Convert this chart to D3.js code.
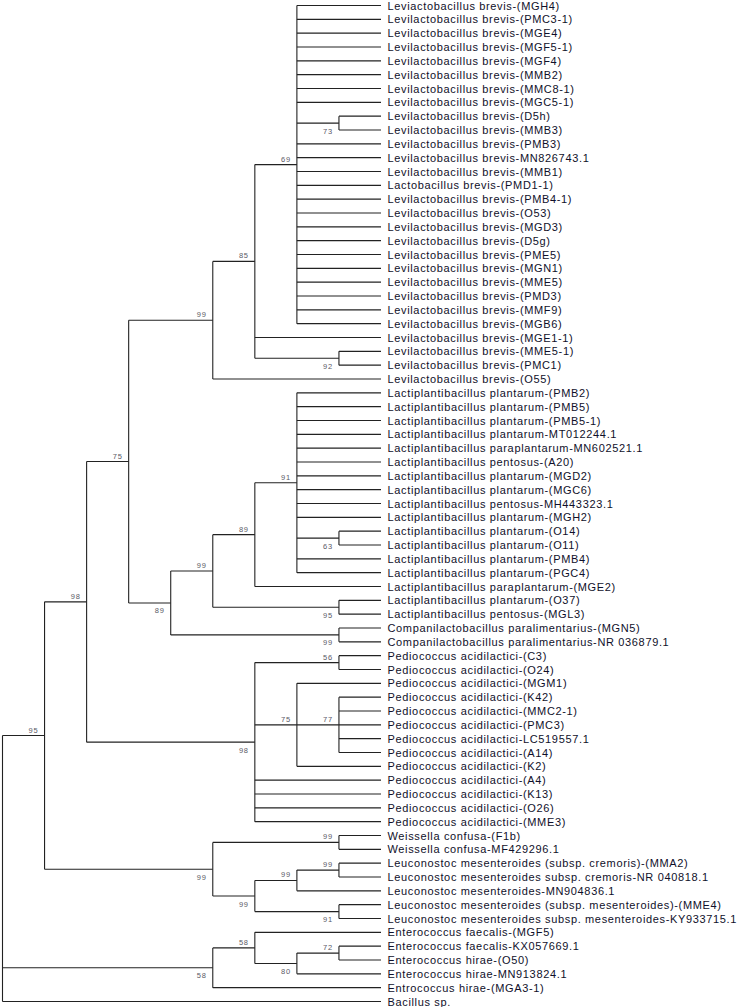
<!DOCTYPE html>
<html>
<head>
<meta charset="utf-8">
<script src="https://cdn.jsdelivr.net/npm/d3@7"></script>
<style>
  html, body { margin: 0; padding: 0; background: #fff; }
  svg { display: block; }
</style>
</head>
<body>
<svg id="chart" width="741" height="1007"></svg>
<script>
// ---------------- DATA ----------------
// Leaf names, grouped by clade (top to bottom order)
const levBrevisA = [
  "Leviactobacillus brevis-(MGH4)", "Levilactobacillus brevis-(PMC3-1)",
  "Levilactobacillus brevis-(MGE4)", "Levilactobacillus brevis-(MGF5-1)",
  "Levilactobacillus brevis-(MGF4)", "Levilactobacillus brevis-(MMB2)",
  "Levilactobacillus brevis-(MMC8-1)", "Levilactobacillus brevis-(MGC5-1)"
];
const levBrevisPair73 = ["Levilactobacillus brevis-(D5h)", "Levilactobacillus brevis-(MMB3)"];
const levBrevisB = [
  "Levilactobacillus brevis-(PMB3)", "Levilactobacillus brevis-MN826743.1",
  "Levilactobacillus brevis-(MMB1)", "Lactobacillus brevis-(PMD1-1)",
  "Levilactobacillus brevis-(PMB4-1)", "Levilactobacillus brevis-(O53)",
  "Levilactobacillus brevis-(MGD3)", "Levilactobacillus brevis-(D5g)",
  "Levilactobacillus brevis-(PME5)", "Levilactobacillus brevis-(MGN1)",
  "Levilactobacillus brevis-(MME5)", "Levilactobacillus brevis-(PMD3)",
  "Levilactobacillus brevis-(MMF9)", "Levilactobacillus brevis-(MGB6)"
];
const levSingle = "Levilactobacillus brevis-(MGE1-1)";
const levPair92 = ["Levilactobacillus brevis-(MME5-1)", "Levilactobacillus brevis-(PMC1)"];
const levOut = "Levilactobacillus brevis-(O55)";

const lpA = [
  "Lactiplantibacillus plantarum-(PMB2)", "Lactiplantibacillus plantarum-(PMB5)",
  "Lactiplantibacillus plantarum-(PMB5-1)", "Lactiplantibacillus plantarum-MT012244.1",
  "Lactiplantibacillus paraplantarum-MN602521.1", "Lactiplantibacillus pentosus-(A20)",
  "Lactiplantibacillus plantarum-(MGD2)", "Lactiplantibacillus plantarum-(MGC6)",
  "Lactiplantibacillus pentosus-MH443323.1", "Lactiplantibacillus plantarum-(MGH2)"
];
const lpPair63 = ["Lactiplantibacillus plantarum-(O14)", "Lactiplantibacillus plantarum-(O11)"];
const lpB = ["Lactiplantibacillus plantarum-(PMB4)", "Lactiplantibacillus plantarum-(PGC4)"];
const lpSingle = "Lactiplantibacillus paraplantarum-(MGE2)";
const lpPair95 = ["Lactiplantibacillus plantarum-(O37)", "Lactiplantibacillus pentosus-(MGL3)"];
const compPair = ["Companilactobacillus paralimentarius-(MGN5)", "Companilactobacillus paralimentarius-NR 036879.1"];

const pedPair56 = ["Pediococcus acidilactici-(C3)", "Pediococcus acidilactici-(O24)"];
const pedSingle = "Pediococcus acidilactici-(MGM1)";
const pedGroup77 = [
  "Pediococcus acidilactici-(K42)", "Pediococcus acidilactici-(MMC2-1)",
  "Pediococcus acidilactici-(PMC3)", "Pediococcus acidilactici-LC519557.1",
  "Pediococcus acidilactici-(A14)"
];
const pedK2 = "Pediococcus acidilactici-(K2)";
const pedRest = [
  "Pediococcus acidilactici-(A4)", "Pediococcus acidilactici-(K13)",
  "Pediococcus acidilactici-(O26)", "Pediococcus acidilactici-(MME3)"
];

const weisPair = ["Weissella confusa-(F1b)", "Weissella confusa-MF429296.1"];
const leucPairCrem = ["Leuconostoc mesenteroides (subsp. cremoris)-(MMA2)", "Leuconostoc mesenteroides subsp. cremoris-NR 040818.1"];
const leucSingle = "Leuconostoc mesenteroides-MN904836.1";
const leucPairMes = ["Leuconostoc mesenteroides (subsp. mesenteroides)-(MME4)", "Leuconostoc mesenteroides subsp. mesenteroides-KY933715.1"];

const entSingle = "Enterococcus faecalis-(MGF5)";
const entPair72 = ["Enterococcus faecalis-KX057669.1", "Enterococcus hirae-(O50)"];
const entHirae = "Enterococcus hirae-MN913824.1";
const entOut = "Entrococcus hirae-(MGA3-1)";
const outgroup = "Bacillus sp.";

// Bootstrap support values (node id -> value)
const supportIds    = ["n73","n69","n92","n85","n99a","n63","n91","n89a","n95a","n99b","n99c","n89b","n75a","n56","n77","n75b","n98a","n98b","n99d","n99e","n99f","n99g","n91b","n99h","n72","n80","n58a","n58b","n95b"];
const supportValues = [ 73,   69,   92,   85,   99,    63,   91,   89,    95,    99,    99,    89,    75,    56,   77,   75,    98,    98,    99,    99,    99,    99,    91,    99,    72,   80,   58,    58,    95 ];

// ---------------- TREE ----------------
const sup = Object.fromEntries(supportIds.map((k, i) => [k, supportValues[i]]));
const L = name => ({ name });
const N = (id, children) => ({ id, support: sup[id], children });

const treeData = N("root", [
  N("n95b", [
    N("n98b", [
      N("n75a", [
        N("n99a", [
          N("n85", [
            N("n69", [
              ...levBrevisA.map(L),
              N("n73", levBrevisPair73.map(L)),
              ...levBrevisB.map(L)
            ]),
            L(levSingle),
            N("n92", levPair92.map(L))
          ]),
          L(levOut)
        ]),
        N("n89b", [
          N("n99b", [
            N("n89a", [
              N("n91", [
                ...lpA.map(L),
                N("n63", lpPair63.map(L)),
                ...lpB.map(L)
              ]),
              L(lpSingle)
            ]),
            N("n95a", lpPair95.map(L))
          ]),
          N("n99c", compPair.map(L))
        ])
      ]),
      N("n98a", [
        N("n56", pedPair56.map(L)),
        N("n75b", [
          L(pedSingle),
          N("n77", pedGroup77.map(L)),
          L(pedK2)
        ]),
        ...pedRest.map(L)
      ])
    ]),
    N("n99d", [
      N("n99e", weisPair.map(L)),
      N("n99f", [
        N("n99g", [
          N("n99h", leucPairCrem.map(L)),
          L(leucSingle)
        ]),
        N("n91b", leucPairMes.map(L))
      ])
    ])
  ]),
  N("n58a", [
    N("n58b", [
      L(entSingle),
      N("n80", [
        N("n72", entPair72.map(L)),
        L(entHirae)
      ])
    ]),
    L(entOut)
  ]),
  L(outgroup)
]);

// ---------------- RENDER ----------------
const svg = d3.select("#chart");
const root = d3.hierarchy(treeData, d => d.children);
const leaves = root.leaves();

const x = d3.scaleLinear().domain([root.height, 0]).range([2.5, 381]);
const y = d3.scaleLinear().domain([0, leaves.length - 1]).range([5.5, 1001.5]);

leaves.forEach((d, i) => { d.py = y(i); });
root.eachAfter(d => {
  d.px = x(d.height);
  if (d.children) d.py = (d.children[0].py + d.children[d.children.length - 1].py) / 2;
});

const belowLabels = new Set(["n73","n92","n63","n95a","n89b","n99c","n98a","n99d","n99f","n91b","n80","n58a"]);

const g = svg.append("g");

// horizontal branches (from parent x to node x)
g.selectAll("path.branch")
  .data(root.descendants().filter(d => d.parent))
  .join("path")
  .attr("class", "branch")
  .attr("d", d => `M${d.parent.px},${d.py}H${d.px}`)
  .attr("fill", "none")
  .attr("stroke", "#222")
  .attr("stroke-width", 1.1);

// vertical connectors
g.selectAll("path.vert")
  .data(root.descendants().filter(d => d.children))
  .join("path")
  .attr("class", "vert")
  .attr("d", d => `M${d.px},${d.children[0].py}V${d.children[d.children.length - 1].py}`)
  .attr("fill", "none")
  .attr("stroke", "#222")
  .attr("stroke-width", 1.1);

// leaf labels
g.selectAll("text.leaf")
  .data(leaves)
  .join("text")
  .attr("class", "leaf")
  .attr("x", d => d.px + 6.5)
  .attr("y", d => d.py + 4)
  .attr("font-family", "Liberation Sans, Arial, sans-serif")
  .attr("font-size", 11)
  .attr("letter-spacing", 0.65)
  .attr("fill", "#10102a")
  .text(d => d.data.name);

// support labels
g.selectAll("text.sup")
  .data(root.descendants().filter(d => d.children && d.data.support != null))
  .join("text")
  .attr("class", "sup")
  .attr("x", d => d.px - 6)
  .attr("y", d => belowLabels.has(d.data.id) ? d.py + 10.5 : d.py - 3)
  .attr("text-anchor", "end")
  .attr("font-family", "Liberation Sans, Arial, sans-serif")
  .attr("font-size", 7.5)
  .attr("letter-spacing", 0.8)
  .attr("fill", "#5a5a66")
  .text(d => d.data.support);
</script>
</body>
</html>
